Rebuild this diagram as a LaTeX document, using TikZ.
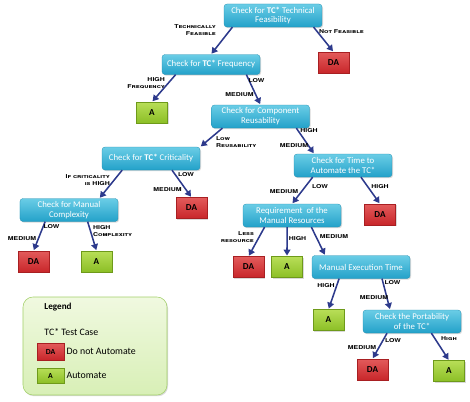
\documentclass[tikz,border=0pt]{standalone}
\usepackage{fontspec}
\setmainfont{Carlito}
\newfontfamily\lblfont[FakeStretch=1.3]{TeX Gyre Heros}
\usetikzlibrary{arrows.meta,shadows}
\definecolor{linkblue}{HTML}{2D3A8C}
\definecolor{boxtop}{HTML}{6ACDE6}
\definecolor{boxbot}{HTML}{23A1C9}
\definecolor{boxline}{HTML}{1E8DB0}
\definecolor{datop}{HTML}{E35B5B}
\definecolor{dabot}{HTML}{C8262A}
\definecolor{daline}{HTML}{A81F22}
\definecolor{atop}{HTML}{B8DE58}
\definecolor{abot}{HTML}{8CBF26}
\definecolor{aline}{HTML}{6E9A1A}
\definecolor{legtop}{HTML}{F0F9E0}
\definecolor{legbot}{HTML}{D8EFB6}
\definecolor{legline}{HTML}{A3D06A}

\begin{document}
\begin{tikzpicture}[x=0.5mm, y=-0.5mm,
    soft/.style = {drop shadow={opacity=0.3, shadow xshift=0.5mm, shadow yshift=-0.6mm}},
    checkbox/.style = {draw=boxline, rounded corners=1.5mm, top color=boxtop, bottom color=boxbot,
        minimum width=49mm, minimum height=11.5mm, align=center, text=white,
        font=\fontsize{12.5}{14}\selectfont, soft},
    dabox/.style = {draw=daline, top color=datop, bottom color=dabot, minimum width=15.5mm,
        minimum height=10.5mm, font=\bfseries\fontsize{13}{14}\selectfont, soft},
    abox/.style = {draw=aline, top color=atop, bottom color=abot, minimum width=15.5mm,
        minimum height=10.5mm, font=\bfseries\fontsize{13}{14}\selectfont, soft},
    lbl/.style = {font=\lblfont\bfseries\scshape\fontsize{7.6}{9.8}\selectfont, inner sep=0pt},
    link/.style = {-{Triangle[length=3mm,width=3.4mm]}, line width=2.2pt, draw=linkblue, shorten >=0.4mm}]
    \useasboundingbox (0,0) rectangle (470,401);

    % decision boxes
    \node[checkbox] (T) at (273,15.5) {Check for \textbf{TC*} Technical\\Feasibility};
    \node[dabox] (DA1) at (333.5,62.5) {DA};
    \node[checkbox, minimum height=10mm] (F) at (211,64.5) {Check for \textbf{TC*} Frequency};
    \node[abox] (A1) at (152,112.5) {A};
    \node[checkbox] (R) at (260.5,116.5) {Check for Component\\Reusability};
    \node[checkbox] (C) at (151,158.5) {Check for \textbf{TC*} Criticality};
    \node[checkbox] (TA) at (343,165.5) {Check for Time to\\Automate the TC*};
    \node[dabox] (DA2) at (191.5,208) {DA};
    \node[checkbox] (MC) at (69,210) {Check for Manual\\Complexity};
    \node[dabox] (DA3) at (33.5,261.5) {DA};
    \node[abox] (A2) at (96.5,261.5) {A};
    \node[dabox] (DA4) at (380,214.5) {DA};
    \node[checkbox] (MR) at (292,215.5) {Requirement~ of the\\Manual Resources};
    \node[dabox] (DA5) at (248.5,267) {DA};
    \node[abox] (A3) at (287,267) {A};
    \node[checkbox] (ME) at (361,267) {Manual Execution Time};
    \node[abox] (A4) at (328.5,320) {A};
    \node[checkbox] (P) at (412,321.5) {Check the Portability\\of the TC*};
    \node[dabox] (DA6) at (372.5,369.5) {DA};
    \node[abox] (A5) at (449,371) {A};

    % connectors
    \path (T.196) edge[link] (F.north);
    \path (T.344) edge[link] (DA1.north);
    \path (F.196) edge[link] (A1.north);
    \path (F.344) edge[link] (R.north);
    \path (R.197) edge[link] (C.north east);
    \path (R.342) edge[link] (TA.158);
    \path (C.202) edge[link] (MC.21);
    \path (C.331) edge[link] (DA2.north);
    \path (TA.201) edge[link] (MR.north);
    \path (TA.327) edge[link] (DA4.north);
    \path (MC.206) edge[link] (DA3.north);
    \path (MC.328) edge[link] (A2.north);
    \path (MR.203) edge[link] (DA5.north);
    \path (MR.247) edge[link] (A3.north);
    \path (MR.329) edge[link] (ME.162);
    \path (ME.208) edge[link] (A4.north);
    \path (ME.331) edge[link] (P.152);
    \path (P.205) edge[link] (DA6.north);
    \path (P.329) edge[link] (A5.north);

    % branch labels
    \node[lbl, align=right, anchor=east] (lTF) at (216,30) {Technically\\Feasible};
    \node[lbl, anchor=west] (lNF) at (319,32) {Not Feasible};
    \node[lbl, align=right, anchor=east] (lHF) at (165,83) {HIGH\\Frequency};
    \node[lbl] (lFL) at (256.5,81) {LOW};
    \node[lbl] (lFM) at (239.5,95) {MEDIUM};
    \node[lbl, align=left, anchor=west] (lLR) at (216,142) {Low\\Reusability};
    \node[lbl] (lRH) at (309,131) {HIGH};
    \node[lbl] (lRM) at (294,146) {MEDIUM};
    \node[lbl, align=right, anchor=east] (lIC) at (110,180) {If criticality\\is HIGH};
    \node[lbl] (lCL) at (186,175) {LOW};
    \node[lbl] (lCM) at (167.5,190) {MEDIUM};
    \node[lbl] (lTM) at (284,192) {MEDIUM};
    \node[lbl] (lTL) at (320,187) {LOW};
    \node[lbl] (lTH) at (380,187) {HIGH};
    \node[lbl] (lML) at (51.5,227) {LOW};
    \node[lbl] (lMM) at (22,239) {MEDIUM};
    \node[lbl, align=left, anchor=west] (lHC) at (93,231) {HIGH\\Complexity};
    \node[lbl, align=right, anchor=east] (lLS) at (254,237) {Less\\resource};
    \node[lbl] (lQH) at (297.5,239) {HIGH};
    \node[lbl] (lQM) at (334,237) {MEDIUM};
    \node[lbl] (lEH) at (326,286) {HIGH};
    \node[lbl] (lEL) at (392.5,283) {LOW};
    \node[lbl] (lEM) at (374,298) {MEDIUM};
    \node[lbl] (lPL) at (393,341) {LOW};
    \node[lbl] (lPM) at (362,348) {MEDIUM};
    \node[lbl] (lPH) at (449,339) {High};

    % legend
    \node[draw=legline, line width=0.8pt, rounded corners=5mm, top color=legtop, bottom color=legbot,
        minimum width=72mm, minimum height=49mm, soft] (L) at (95,346) {};
    \node[anchor=west, font=\bfseries\fontsize{13}{15}\selectfont] (LT) at (42,307) {Legend};
    \node[anchor=west, font=\fontsize{14}{16}\selectfont] (LC) at (42,332) {TC* Test Case};
    \node[dabox, minimum width=13.5mm, minimum height=8.5mm, font=\bfseries\fontsize{11}{12}\selectfont] (LDA) at (50.5,351.5) {DA};
    \node[anchor=west, font=\fontsize{14}{16}\selectfont] (LDT) at (LDA.east) {Do not Automate};
    \node[abox, minimum width=13.5mm, minimum height=7.5mm, font=\bfseries\fontsize{11}{12}\selectfont] (LA) at (50.5,375.5) {A};
    \node[anchor=west, font=\fontsize{14}{16}\selectfont] (LAT) at (LA.east) {Automate};
\end{tikzpicture}
\end{document}
